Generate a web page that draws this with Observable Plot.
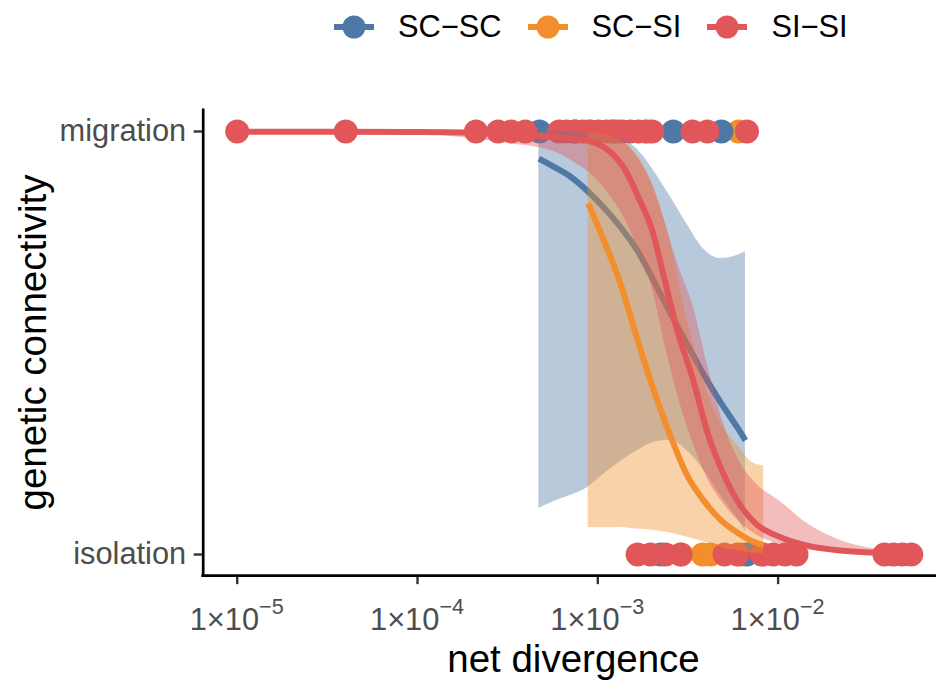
<!DOCTYPE html>
<html><head><meta charset="utf-8">
<script src="https://cdn.jsdelivr.net/npm/d3@7"></script>
<script src="https://cdn.jsdelivr.net/npm/@observablehq/plot@0.6"></script>
<style>
body{margin:0;background:#fff;}
#fig{width:936px;height:680px;font-family:"Liberation Sans",Arial,sans-serif;overflow:hidden;}
#legend{height:55px;display:flex;align-items:center;padding-left:334px;font-size:30.8px;color:#000;}
.item{display:flex;align-items:center;}
.key{width:40px;height:26px;margin-right:24px;display:block;}
.lab{margin-right:26px;line-height:1;}
</style></head><body>
<div id="fig"><div id="legend"></div><div id="chart"></div></div>
<script>
// ---------- data ----------
const groups = ["SC\u2212SC", "SC\u2212SI", "SI\u2212SI"];
const colors = ["#4E79A7", "#F28E2B", "#E15759"];
const yLevels = ["isolation", "migration"];          // y = 0, y = 1
const xTicks = [1e-5, 1e-4, 1e-3, 1e-2];
const xTickExponents = ["\u22125", "\u22124", "\u22123", "\u22122"];

// observed pairs (net divergence) at each connectivity level
const scscMigration = [4.75e-4, 7.5e-4, 1.2e-3, 2.62e-3, 4.85e-3];
const scscIsolation = [2.23e-3, 6.7e-3];
const scsiMigration = [8.85e-4, 1.3e-3, 1.9e-3, 6.03e-3];
const scsiIsolation = [2.91e-3, 3.81e-3, 4.22e-3, 6.19e-3, 8.32e-3];
const sisiMigration = [1e-5, 4.0e-5, 2.11e-4, 2.8e-4, 3.31e-4, 3.96e-4, 6.10e-4, 6.71e-4, 7.43e-4,
  8.23e-4, 9.11e-4, 1.009e-3, 1.117e-3, 1.238e-3, 1.371e-3, 1.518e-3, 1.681e-3, 1.839e-3,
  2.003e-3, 3.35e-3, 4.05e-3, 6.72e-3];
const sisiIsolation = [1.662e-3, 1.96e-3, 2.374e-3, 2.875e-3, 5.04e-3, 5.95e-3, 8.1e-3, 9.4e-3,
  1.09e-2, 1.265e-2, 3.89e-2, 4.37e-2, 4.90e-2, 5.48e-2];

// fitted probability of migration with confidence band
const scscCurveX = [4.71e-4, 5.68e-4, 7.06e-4, 8.73e-4, 1.075e-3, 1.336e-3, 1.654e-3, 2.036e-3, 2.53e-3, 3.13e-3, 3.86e-3, 4.79e-3, 5.93e-3, 6.59e-3];
const scscFit  = [0.936, 0.917, 0.893, 0.86, 0.821, 0.774, 0.719, 0.648, 0.57, 0.497, 0.426, 0.36, 0.301, 0.27];
const scscLow  = [0.109, 0.125, 0.14, 0.158, 0.19, 0.22, 0.245, 0.265, 0.27, 0.245, 0.2, 0.14, 0.085, 0.055];
const scscHigh = [0.9994, 0.999, 0.998, 0.995, 0.988, 0.982, 0.958, 0.908, 0.845, 0.78, 0.722, 0.70, 0.707, 0.716];

const scsiCurveX = [8.85e-4, 1.075e-3, 1.336e-3, 1.654e-3, 2.036e-3, 2.53e-3, 3.13e-3, 3.86e-3, 4.79e-3, 5.93e-3, 7.3e-3, 8.32e-3];
const scsiFit  = [0.83, 0.745, 0.64, 0.51, 0.39, 0.28, 0.187, 0.128, 0.082, 0.052, 0.03, 0.022];
const scsiLow  = [0.064, 0.063, 0.064, 0.060, 0.057, 0.051, 0.041, 0.030, 0.017, 0.0086, 0.0034, 0.002];
const scsiHigh = [0.9972, 0.992, 0.979, 0.944, 0.871, 0.736, 0.555, 0.41, 0.31, 0.259, 0.216, 0.21];

const sisiCurveX = [1e-5, 4e-5, 1e-4, 2.1e-4, 3.72e-4, 4.69e-4, 6.05e-4, 7.52e-4, 8.88e-4, 1.147e-3, 1.424e-3, 1.681e-3, 2.003e-3, 2.344e-3, 2.757e-3, 3.395e-3, 4.045e-3, 4.98e-3, 6.19e-3, 7.66e-3, 1.031e-2, 1.45e-2, 2.22e-2, 3.38e-2, 5.48e-2];
const sisiFit  = [0.9995, 0.9993, 0.999, 0.997, 0.993, 0.99, 0.986, 0.982, 0.978, 0.955, 0.908, 0.844, 0.766, 0.65, 0.53, 0.41, 0.29, 0.19, 0.115, 0.07, 0.041, 0.021, 0.0095, 0.0045, 0.002];
const sisiLow  = [0.998, 0.997, 0.994, 0.982, 0.968, 0.962, 0.948, 0.925, 0.905, 0.853, 0.79, 0.72, 0.63, 0.50, 0.38, 0.26, 0.18, 0.12, 0.075, 0.045, 0.024, 0.011, 0.004, 0.0015, 0.0005];
const sisiHigh = [1.0, 1.0, 1.0, 0.9995, 0.999, 0.998, 0.997, 0.996, 0.995, 0.99, 0.972, 0.935, 0.875, 0.79, 0.69, 0.584, 0.45, 0.31, 0.215, 0.165, 0.125, 0.073, 0.033, 0.014, 0.007];

// ---------- tables ----------
const points = [];
const addPts = (arr, g, y) => arr.forEach(x => points.push({x, y, group: g}));
addPts(scsiMigration, groups[1], 1); addPts(scsiIsolation, groups[1], 0);
addPts(scscMigration, groups[0], 1); addPts(scscIsolation, groups[0], 0);
addPts(sisiMigration, groups[2], 1); addPts(sisiIsolation, groups[2], 0);

const curveTable = (g, xs, fit, lo, hi) => xs.map((x, i) => ({group: g, x, fit: fit[i], lo: lo[i], hi: hi[i]}));
const curves = [
  curveTable(groups[0], scscCurveX, scscFit, scscLow, scscHigh),
  curveTable(groups[1], scsiCurveX, scsiFit, scsiLow, scsiHigh),
  curveTable(groups[2], sisiCurveX, sisiFit, sisiLow, sisiHigh)
];

const xDomain = [Math.pow(10, -5.1886), Math.pow(10, -1.1215)];
const yDomain = [-0.05, 1.05];

const plot = Plot.plot({
  width: 936, height: 625,
  marginLeft: 202.7, marginRight: 0, marginTop: 54.85, marginBottom: 104.85,
  x: {type: "log", domain: xDomain, axis: null},
  y: {domain: yDomain, axis: null},
  color: {domain: groups, range: colors},
  style: {fontFamily: "Liberation Sans, Arial, sans-serif", background: "white", overflow: "visible"},
  marks: [
    Plot.dot(points, {x: "x", y: "y", fill: "group", r: 12}),
    ...curves.flatMap(c => [
      Plot.areaY(c, {x: "x", y1: "lo", y2: "hi", fill: "group", fillOpacity: 0.4, curve: "monotone-x"}),
      Plot.line(c, {x: "x", y: "fit", stroke: "group", strokeWidth: 6, strokeLinecap: "butt", curve: "monotone-x"})
    ]),
    Plot.axisX(xTicks, {tickSize: 9, tickFormat: () => "", stroke: "#333333", strokeWidth: 2.4, label: null}),
    Plot.axisY([0, 1], {tickSize: 9, tickPadding: 8, tickFormat: d => yLevels[d], fontSize: 30.8, fill: "#4D4D4D", stroke: "#333333", strokeWidth: 2.4, label: null}),
    Plot.ruleY([yDomain[0]], {stroke: "black", strokeWidth: 2.7, strokeLinecap: "square"}),
    Plot.ruleX([xDomain[0]], {stroke: "black", strokeWidth: 2.7, strokeLinecap: "square"})
  ]
});
document.getElementById("chart").appendChild(plot);

// ---------- text added around the plot ----------
const svg = d3.select(plot);
const sx = plot.scale("x"), sy = plot.scale("y");
const yBottom = sy.apply(yDomain[0]);
const yTop = sy.apply(yDomain[1]);
xTicks.forEach((t, i) => {
  const tx = svg.append("text")
    .attr("x", sx.apply(t)).attr("y", yBottom + 55)
    .attr("text-anchor", "middle").attr("fill", "#4D4D4D")
    .attr("font-size", 30.8).attr("font-family", "Liberation Sans, Arial, sans-serif");
  tx.append("tspan").text("1\u00d710");
  tx.append("tspan").attr("dy", -16).attr("font-size", 21.6).text(xTickExponents[i]);
});
svg.append("text")
  .attr("x", 573.5).attr("y", yBottom + 97)
  .attr("text-anchor", "middle").attr("fill", "black")
  .attr("font-size", 38.5).attr("font-family", "Liberation Sans, Arial, sans-serif")
  .text("net divergence");
svg.append("text")
  .attr("transform", `translate(46,${(yTop + yBottom) / 2}) rotate(-90)`)
  .attr("text-anchor", "middle").attr("fill", "black")
  .attr("font-size", 38.5).attr("font-family", "Liberation Sans, Arial, sans-serif")
  .text("genetic connectivity");

// ---------- legend ----------
const leg = d3.select("#legend");
groups.forEach((g, i) => {
  const it = leg.append("div").attr("class", "item");
  const s = it.append("svg").attr("class", "key").attr("width", 40).attr("height", 26);
  s.append("line").attr("x1", 0).attr("x2", 40).attr("y1", 13).attr("y2", 13)
    .attr("stroke", colors[i]).attr("stroke-width", 6);
  s.append("circle").attr("cx", 20).attr("cy", 13).attr("r", 11.5).attr("fill", colors[i]);
  it.append("span").attr("class", "lab").text(g);
});
</script>
</body></html>
